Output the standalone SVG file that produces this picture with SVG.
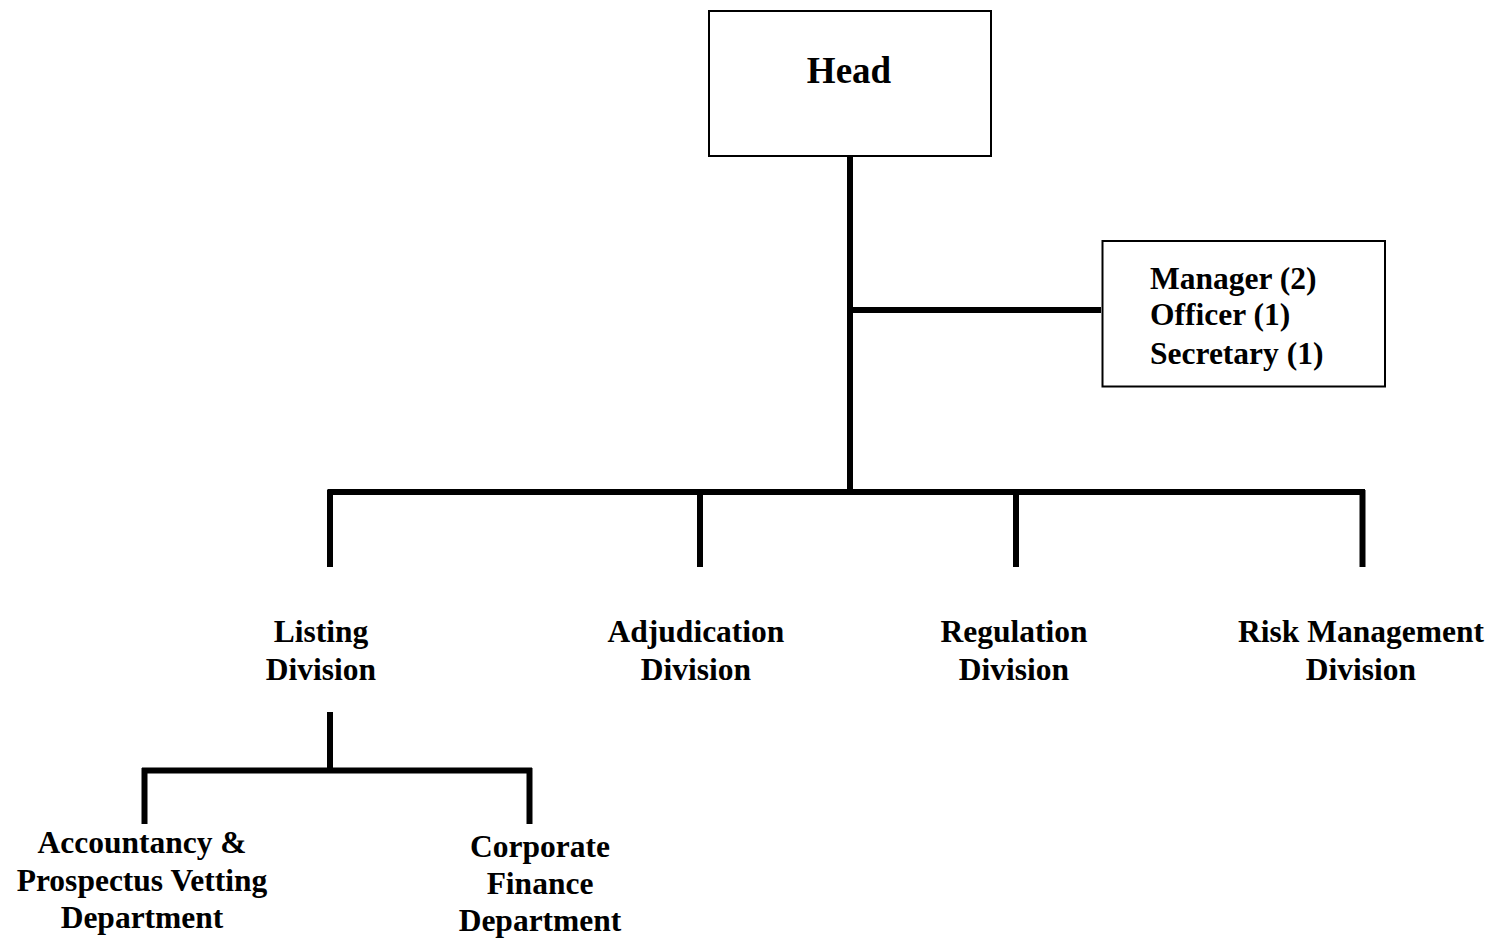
<svg xmlns="http://www.w3.org/2000/svg" width="1490" height="939" viewBox="0 0 1490 939">
<style>
.box{fill:#fff;stroke:#000;stroke-width:2}
.ln{stroke:#000;stroke-width:6;fill:none}
.t{font-family:"Liberation Serif","Times New Roman",serif;font-weight:bold;font-size:31.5px;fill:#000}
.m{text-anchor:middle}
</style>
<rect width="1490" height="939" fill="#fff"/>
<g id="connectors">
<line class="ln" x1="850" y1="156" x2="850" y2="495"/>
<line class="ln" x1="850" y1="310" x2="1101" y2="310"/>
<line class="ln" x1="327.5" y1="492" x2="1365" y2="492"/>
<line class="ln" x1="330" y1="490" x2="330" y2="567"/>
<line class="ln" x1="700" y1="492" x2="700" y2="567"/>
<line class="ln" x1="1016" y1="492" x2="1016" y2="567"/>
<line class="ln" x1="1362.5" y1="490" x2="1362.5" y2="567"/>
<line class="ln" x1="330" y1="712" x2="330" y2="771"/>
<line class="ln" x1="142" y1="770.5" x2="532" y2="770.5"/>
<line class="ln" x1="144.5" y1="768" x2="144.5" y2="824"/>
<line class="ln" x1="529.5" y1="768" x2="529.5" y2="824"/>
</g>
<g id="head">
<rect class="box" x="709" y="11" width="282" height="145"/>
<text class="t m" x="849" y="83" style="font-size:37px">Head</text>
</g>
<g id="staff">
<rect class="box" x="1102.5" y="241" width="282.5" height="145.5"/>
<text class="t" x="1150" y="289">Manager (2)</text>
<text class="t" x="1150" y="325">Officer (1)</text>
<text class="t" x="1150" y="364">Secretary (1)</text>
</g>
<g id="listing">
<text class="t m" x="321" y="642">Listing</text>
<text class="t m" x="321" y="680">Division</text>
</g>
<g id="adjudication">
<text class="t m" x="696" y="642">Adjudication</text>
<text class="t m" x="696" y="680">Division</text>
</g>
<g id="regulation">
<text class="t m" x="1014" y="642">Regulation</text>
<text class="t m" x="1014" y="680">Division</text>
</g>
<g id="risk">
<text class="t m" x="1361" y="642">Risk Management</text>
<text class="t m" x="1361" y="680">Division</text>
</g>
<g id="accountancy">
<text class="t m" x="142" y="853">Accountancy &amp;</text>
<text class="t m" x="142" y="891">Prospectus Vetting</text>
<text class="t m" x="142" y="928">Department</text>
</g>
<g id="corporate">
<text class="t m" x="540" y="857">Corporate</text>
<text class="t m" x="540" y="894">Finance</text>
<text class="t m" x="540" y="931">Department</text>
</g>
</svg>
